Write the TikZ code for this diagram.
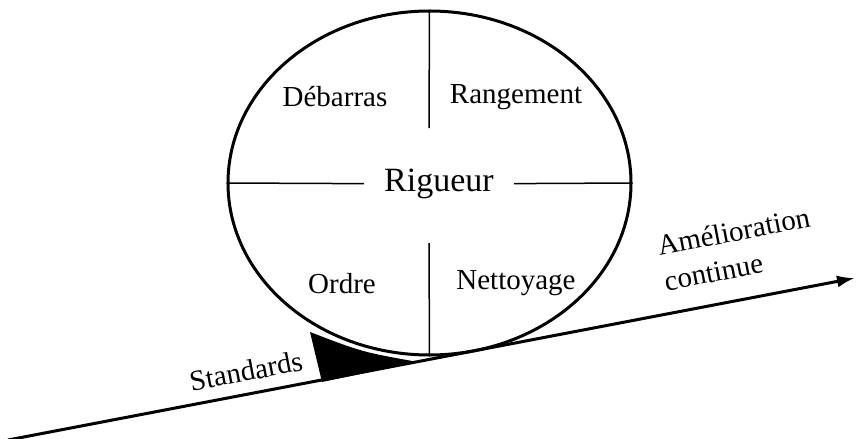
\documentclass[tikz,border=0pt]{standalone}
\usepackage{fontspec}
\setmainfont{Liberation Serif}
\usetikzlibrary{arrows.meta,shapes.geometric,positioning}

\tikzset{
  lbl/.style={font=\fontsize{14.5}{16}\selectfont, inner sep=0pt},
  divider/.style={line width=0.75pt},
}

\begin{document}
\begin{tikzpicture}[x=0.5pt, y=-0.5pt]
    \useasboundingbox (0,0) rectangle (857,439);
    % the wheel
    \node[ellipse, draw, line width=1.5pt, minimum width=201.5pt, minimum height=172pt] (wheel) at (429.5,183) {};
    \node[font=\fontsize{17}{20}\selectfont, inner xsep=10pt] (rig) at (439,184) {Rigueur};
    \node[lbl] (deb) at (335,97) {Débarras};
    \node[lbl] (ran) at (516,97) {Rangement};
    \node[lbl] (ord) at (342,284) {Ordre};
    \node[lbl] (net) at (516,283) {Nettoyage};
    \coordinate (vtop) at (429,128);
    \coordinate (vbot) at (429,243);
    \draw[divider] (wheel.north) -- (vtop);
    \draw[divider] (vbot) -- (wheel.south);
    \draw[divider] (wheel.west) -- (rig);
    \draw[divider] (rig) -- (wheel.east);
    % the slope
    \coordinate (s0) at (8,440);
    \coordinate (s1) at (855,278);
    \draw[line width=1.5pt, -{Latex[length=9pt,width=6pt]}] (s0) -- (s1);
    % the wedge
    \fill (310,332) .. controls (362,352) .. (418,362) -- (322,382) -- cycle;
    \node[lbl, rotate=10.8] (std) at (246,371) {Standards};
    \node[lbl, font=\fontsize{14.5}{18}\selectfont, rotate=11, align=left] (amc) at (737,249) {Amélioration\\continue};
\end{tikzpicture}
\end{document}
